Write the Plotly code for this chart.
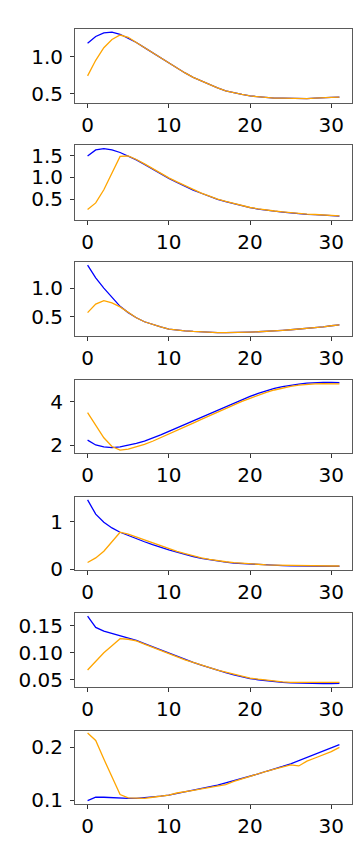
import plotly.graph_objects as go

x = list(range(32))

blue_1 = [1.18, 1.27, 1.32, 1.33, 1.30, 1.25, 1.19, 1.12, 1.05, 0.98, 0.91, 0.85, 0.78, 0.72, 0.67, 0.62,
          0.58, 0.54, 0.51, 0.49, 0.47, 0.46, 0.45, 0.44, 0.44, 0.435, 0.435, 0.435, 0.44, 0.44, 0.45, 0.455]
orange_1 = [0.74, 0.95, 1.12, 1.23, 1.29, 1.26, 1.19, 1.12, 1.05, 0.98, 0.91, 0.85, 0.78, 0.72, 0.67, 0.62,
            0.58, 0.54, 0.51, 0.49, 0.47, 0.46, 0.45, 0.44, 0.44, 0.435, 0.435, 0.435, 0.44, 0.44, 0.45, 0.455]

blue_2 = [1.49, 1.63, 1.66, 1.63, 1.57, 1.49, 1.40, 1.30, 1.19, 1.08, 0.98, 0.89, 0.80, 0.71, 0.64, 0.57,
          0.50, 0.45, 0.40, 0.35, 0.31, 0.28, 0.25, 0.23, 0.21, 0.19, 0.17, 0.16, 0.15, 0.14, 0.13, 0.12]
orange_2 = [0.27, 0.42, 0.72, 1.10, 1.48, 1.49, 1.41, 1.31, 1.20, 1.09, 0.99, 0.90, 0.81, 0.72, 0.645, 0.575,
            0.505, 0.455, 0.405, 0.355, 0.315, 0.285, 0.255, 0.235, 0.215, 0.195, 0.175, 0.165, 0.155, 0.145, 0.135, 0.125]

blue_3 = [1.40, 1.18, 1.00, 0.83, 0.68, 0.57, 0.48, 0.41, 0.36, 0.32, 0.28, 0.26, 0.25, 0.24, 0.23, 0.225,
          0.22, 0.22, 0.22, 0.225, 0.23, 0.235, 0.24, 0.25, 0.26, 0.27, 0.28, 0.29, 0.31, 0.32, 0.34, 0.355]
orange_3 = [0.57, 0.72, 0.78, 0.74, 0.67, 0.57, 0.48, 0.41, 0.36, 0.32, 0.28, 0.26, 0.25, 0.24, 0.23, 0.225,
            0.22, 0.22, 0.22, 0.225, 0.23, 0.235, 0.24, 0.25, 0.26, 0.27, 0.28, 0.29, 0.31, 0.32, 0.34, 0.355]

blue_4 = [2.24, 2.02, 1.93, 1.90, 1.93, 2.00, 2.09, 2.20, 2.33, 2.48, 2.64, 2.80, 2.96, 3.13, 3.30, 3.47,
          3.63, 3.79, 3.95, 4.10, 4.24, 4.37, 4.49, 4.60, 4.68, 4.75, 4.80, 4.84, 4.87, 4.88, 4.88, 4.87]
orange_4 = [3.50, 2.90, 2.35, 1.95, 1.79, 1.83, 1.93, 2.05, 2.19, 2.35, 2.52, 2.68, 2.85, 3.02, 3.19, 3.36,
            3.53, 3.69, 3.85, 4.01, 4.15, 4.29, 4.42, 4.53, 4.62, 4.69, 4.75, 4.79, 4.81, 4.82, 4.82, 4.81]

blue_5 = [1.46, 1.16, 0.99, 0.87, 0.78, 0.71, 0.64, 0.58, 0.52, 0.46, 0.41, 0.36, 0.31, 0.27, 0.23, 0.20,
          0.17, 0.15, 0.13, 0.12, 0.105, 0.095, 0.09, 0.085, 0.08, 0.075, 0.07, 0.07, 0.065, 0.065, 0.065, 0.065]
orange_5 = [0.145, 0.24, 0.38, 0.58, 0.78, 0.74, 0.68, 0.62, 0.55, 0.49, 0.43, 0.38, 0.33, 0.28, 0.24, 0.21,
            0.18, 0.16, 0.14, 0.125, 0.11, 0.10, 0.095, 0.09, 0.085, 0.08, 0.075, 0.075, 0.07, 0.07, 0.07, 0.07]

blue_6 = [0.168, 0.147, 0.140, 0.136, 0.132, 0.128, 0.123, 0.117, 0.111, 0.105, 0.099, 0.093, 0.087, 0.082, 0.077, 0.072,
          0.067, 0.063, 0.059, 0.055, 0.052, 0.050, 0.048, 0.046, 0.045, 0.044, 0.0435, 0.043, 0.043, 0.043, 0.043, 0.0435]
orange_6 = [0.068, 0.085, 0.100, 0.113, 0.126, 0.125, 0.122, 0.116, 0.110, 0.104, 0.098, 0.092, 0.087, 0.082, 0.077, 0.072,
            0.068, 0.064, 0.060, 0.056, 0.053, 0.051, 0.049, 0.047, 0.046, 0.045, 0.045, 0.045, 0.045, 0.045, 0.045, 0.045]

blue_7 = [0.0995, 0.106, 0.106, 0.105, 0.104, 0.104, 0.104, 0.105, 0.106, 0.108, 0.110, 0.113, 0.116, 0.119, 0.122, 0.125,
          0.129, 0.133, 0.137, 0.141, 0.146, 0.150, 0.155, 0.159, 0.164, 0.169, 0.175, 0.181, 0.187, 0.193, 0.199, 0.205]
orange_7 = [0.227, 0.213, 0.178, 0.143, 0.111, 0.105, 0.104, 0.104, 0.106, 0.108, 0.110, 0.114, 0.116, 0.119, 0.122, 0.125,
            0.127, 0.130, 0.136, 0.141, 0.146, 0.151, 0.155, 0.159, 0.163, 0.167, 0.165, 0.174, 0.180, 0.186, 0.192, 0.200]

blues = [blue_1, blue_2, blue_3, blue_4, blue_5, blue_6, blue_7]
oranges = [orange_1, orange_2, orange_3, orange_4, orange_5, orange_6, orange_7]

x_ticks = [0, 10, 20, 30]
y_ticks = [[0.5, 1.0], [0.5, 1.0, 1.5], [0.5, 1.0], [2, 4], [0, 1], [0.05, 0.10, 0.15], [0.1, 0.2]]
y_ticktext = [["0.5", "1.0"], ["0.5", "1.0", "1.5"], ["0.5", "1.0"], ["2", "4"], ["0", "1"],
              ["0.05", "0.10", "0.15"], ["0.1", "0.2"]]
y_ranges = [[0.38, 1.375], [0.03, 1.74], [0.155, 1.45], [1.67, 5.0], [-0.013, 1.52], [0.036, 0.173], [0.094, 0.2315]]

W, H = 364, 850
px_top = [20, 138, 257, 376, 495, 613, 732]
px_bot = [95, 214, 332, 450, 569, 688, 806]
px_left, px_right = 67, 344

fig = go.Figure()
layout = dict(
    width=W, height=H, autosize=False,
    margin=dict(l=0, r=0, t=0, b=0),
    paper_bgcolor="white", plot_bgcolor="white",
    showlegend=False,
    font=dict(family="DejaVu Sans", size=20, color="black"),
)
axis_common = dict(showline=True, mirror=True, linecolor="#5a5a5a", linewidth=1,
                   showgrid=False, zeroline=False, ticks="outside", ticklen=4,
                   tickwidth=1, tickcolor="#333", tickfont=dict(family="DejaVu Sans", size=20, color="black"))
for i in range(7):
    n = "" if i == 0 else str(i + 1)
    fig.add_trace(go.Scatter(x=x, y=blues[i], mode="lines", line=dict(color="blue", width=1.3),
                             xaxis="x" + n, yaxis="y" + n))
    fig.add_trace(go.Scatter(x=x, y=oranges[i], mode="lines", line=dict(color="orange", width=1.3),
                             xaxis="x" + n, yaxis="y" + n))
    layout["xaxis" + n] = dict(axis_common, domain=[px_left / W, px_right / W], anchor="y" + n,
                               range=[-1.55, 32.55], tickvals=x_ticks)
    layout["yaxis" + n] = dict(axis_common, domain=[1 - px_bot[i] / H, 1 - px_top[i] / H], anchor="x" + n,
                               range=y_ranges[i], tickvals=y_ticks[i], ticktext=y_ticktext[i],
                               ticklabelstandoff=3)
fig.update_layout(**layout)
fig.write_html("out.html")
